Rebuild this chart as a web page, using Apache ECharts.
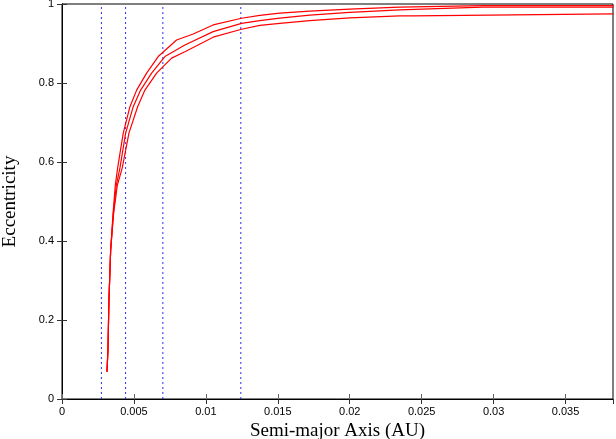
<!DOCTYPE html>
<html>
<head>
<meta charset="utf-8">
<script src="https://cdn.jsdelivr.net/npm/echarts@6/dist/echarts.min.js"></script>
<style>
  html, body { margin: 0; padding: 0; background: #fff; }
  #chart { width: 616px; height: 439px; }
</style>
</head>
<body>
<div id="chart"></div>
<script>
// semi-major axis (AU) and eccentricity
const aUpper = [0.003125, 0.003194, 0.003264, 0.003382, 0.003549, 0.003701, 0.003868, 0.004257, 0.004722, 0.005188, 0.005882, 0.006688, 0.007965, 0.009118, 0.010507, 0.012479, 0.01375, 0.015139, 0.017222, 0.02, 0.023472, 0.029236, 0.038333]
const eUpper = [0.069, 0.124, 0.251, 0.377, 0.470, 0.540, 0.585, 0.673, 0.740, 0.782, 0.825, 0.867, 0.909, 0.924, 0.947, 0.964, 0.971, 0.977, 0.982, 0.987, 0.992, 0.996, 0.996]

const aMiddle = [0.003125, 0.003194, 0.003264, 0.003382, 0.003569, 0.003771, 0.004028, 0.004424, 0.004951, 0.005465, 0.006229, 0.007153, 0.008542, 0.010507, 0.012479, 0.01375, 0.015139, 0.017222, 0.02, 0.023472, 0.029236, 0.038333]
const eMiddle = [0.069, 0.124, 0.251, 0.377, 0.470, 0.540, 0.585, 0.673, 0.740, 0.782, 0.825, 0.867, 0.896, 0.930, 0.951, 0.958, 0.964, 0.972, 0.979, 0.985, 0.992, 0.992]

const aLower = [0.003125, 0.003194, 0.003264, 0.003382, 0.003590, 0.003840, 0.004188, 0.004653, 0.005257, 0.005764, 0.006576, 0.007618, 0.008542, 0.010507, 0.012479, 0.01375, 0.015139, 0.017222, 0.02, 0.023472, 0.024444, 0.024514, 0.038333]
const eLower = [0.069, 0.124, 0.251, 0.377, 0.470, 0.540, 0.585, 0.673, 0.740, 0.782, 0.825, 0.863, 0.879, 0.916, 0.936, 0.946, 0.951, 0.958, 0.965, 0.970, 0.970, 0.975, 0.975]

// dotted vertical markers
const markerA = [0.00274, 0.00442, 0.00701, 0.01243]

const xMax = 0.0383

function pairs(xs, ys) {
  return xs.map((x, i) => [x, ys[i]])
}

function curve(xs, ys) {
  return {
    type: 'line',
    data: pairs(xs, ys),
    showSymbol: false,
    symbol: 'none',
    lineStyle: { color: '#ff0000', width: 1.2 },
    z: 3
  }
}

function marker(x) {
  return {
    type: 'line',
    data: [[x, 0], [x, 1]],
    showSymbol: false,
    symbol: 'none',
    lineStyle: { color: '#2a2aff', type: [2, 3], width: 1 },
    z: 2
  }
}

const tickLabel = { fontFamily: 'Liberation Sans', fontSize: 11, color: '#000' }
const titleFont = { fontFamily: 'Liberation Serif', fontSize: 19, color: '#000' }

const option = {
  backgroundColor: '#fff',
  animation: false,
  grid: {
    left: 62,
    right: 3,
    top: 4,
    bottom: 40,
    containLabel: false,
    outerBoundsMode: 'none',
    show: true,
    borderColor: '#000',
    borderWidth: 1
  },
  xAxis: [
    {
      type: 'value',
      min: 0,
      max: xMax,
      interval: 0.005,
      name: 'Semi-major Axis (AU)',
      nameLocation: 'middle',
      nameGap: 22,
      nameTextStyle: titleFont,
      axisLine: { show: true, lineStyle: { color: '#000' } },
      axisTick: { show: true, inside: true, length: 5, lineStyle: { color: '#666' } },
      axisLabel: Object.assign({ margin: 7, showMaxLabel: false }, tickLabel),
      splitLine: { show: false }
    },
    {
      type: 'value',
      position: 'top',
      min: 0,
      max: xMax,
      interval: 0.005,
      axisLine: { show: true, lineStyle: { color: '#000' } },
      axisTick: { show: true, inside: true, length: 5, lineStyle: { color: '#333' } },
      axisLabel: { show: false },
      splitLine: { show: false }
    }
  ],
  yAxis: [
    {
      type: 'value',
      min: 0,
      max: 1,
      interval: 0.2,
      name: 'Eccentricity',
      nameLocation: 'middle',
      nameGap: 42,
      nameTextStyle: titleFont,
      axisLine: { show: true, lineStyle: { color: '#000' } },
      axisTick: { show: true, inside: true, length: 5, lineStyle: { color: '#333' } },
      axisLabel: Object.assign({ margin: 8 }, tickLabel),
      splitLine: { show: false }
    },
    {
      type: 'value',
      position: 'right',
      min: 0,
      max: 1,
      interval: 0.2,
      axisLine: { show: true, lineStyle: { color: '#000' } },
      axisTick: { show: true, inside: true, length: 5, lineStyle: { color: '#333' } },
      axisLabel: { show: false },
      splitLine: { show: false }
    }
  ],
  series: markerA.map(marker).concat([
    curve(aUpper, eUpper),
    curve(aMiddle, eMiddle),
    curve(aLower, eLower)
  ])
}

const chart = echarts.init(document.getElementById('chart'), null, { renderer: 'canvas' })
chart.setOption(option)
</script>
</body>
</html>
